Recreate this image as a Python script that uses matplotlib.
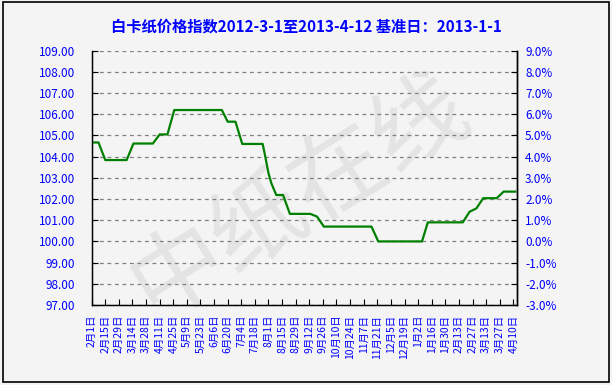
import matplotlib
matplotlib.use("Agg")
import matplotlib.pyplot as plt
from matplotlib.patches import Rectangle
import datetime as dt

plt.rcParams['font.family'] = ['Noto Sans CJK SC', 'DejaVu Sans']

# index values
dates = ["2012-02-01", "2012-02-08", "2012-02-15", "2012-03-08", "2012-03-15",
         "2012-04-04", "2012-04-11", "2012-04-19", "2012-04-26", "2012-06-14",
         "2012-06-20", "2012-06-28", "2012-07-05", "2012-07-26", "2012-07-28",
         "2012-08-01", "2012-08-04", "2012-08-09", "2012-08-16", "2012-08-23",
         "2012-09-13", "2012-09-20", "2012-09-27", "2012-11-15", "2012-11-22",
         "2013-01-06", "2013-01-12", "2013-02-17", "2013-02-24", "2013-03-03",
         "2013-03-10", "2013-03-24", "2013-03-31", "2013-04-12"]
values = [104.67, 104.67, 103.84, 103.84, 104.62, 104.62, 105.05, 105.05, 106.2, 106.2,
          105.65, 105.65, 104.6, 104.6, 104.16, 103.22, 102.74, 102.19, 102.19, 101.3,
          101.3, 101.17, 100.7, 100.7, 100.0, 100.0, 100.9, 100.9, 101.4, 101.56,
          102.04, 102.04, 102.35, 102.35]

tick_labels = ["2月1日", "2月15日", "2月29日", "3月14日", "3月28日", "4月11日", "4月25日",
               "5月9日", "5月23日", "6月6日", "6月20日", "7月4日", "7月18日", "8月1日",
               "8月15日", "8月29日", "9月12日", "9月26日", "10月10日", "10月24日",
               "11月7日", "11月21日", "12月5日", "12月19日", "1月2日", "1月16日",
               "1月30日", "2月13日", "2月27日", "3月13日", "3月27日", "4月10日"]
y_ticks = list(range(97, 110))
pct_ticks = list(range(-3, 10))

title = "白卡纸价格指数2012-3-1至2013-4-12 基准日：2013-1-1"
blue = "#0000ff"

x = [dt.datetime.strptime(d, "%Y-%m-%d") for d in dates]
start = dt.datetime(2012, 2, 1)
tick_pos = [start + dt.timedelta(days=14 * i) for i in range(len(tick_labels))]

fig = plt.figure(figsize=(6.12, 3.85), dpi=100, facecolor="#f4f4f4")
fig.patches.append(Rectangle((0.0045, 0.008), 0.991, 0.986, transform=fig.transFigure,
                             fill=False, edgecolor="black", linewidth=1.2, zorder=5))
# faint site watermark behind the plot
fig.text(0.49, 0.49, "中纸在线", rotation=32, fontsize=68, color="#e0e0e0",
         ha="center", va="center", zorder=-1, alpha=0.8)
fig.text(0.5, 0.931, title, color=blue, fontsize=11, fontweight="bold",
         ha="center", va="center")

ax = fig.add_axes([0.1498, 0.2078, 0.6945, 0.6605])
ax.patch.set_visible(False)
ax.plot(x, values, color="#008000", linewidth=1.6, zorder=3)

ax.set_xlim(start, start + dt.timedelta(days=437.5))
ax.set_ylim(97, 109)
ax.set_yticks(y_ticks)
ax.yaxis.set_major_formatter(plt.FuncFormatter(lambda v, p: f"{v:.2f}"))
ax.set_xticks(tick_pos)
ax.set_xticklabels(tick_labels, rotation=90)
ax.grid(axis="y", color="#808080", linestyle=(0, (3, 3)), linewidth=0.9)

for side in ["left", "bottom", "right"]:
    ax.spines[side].set_linewidth(1.0)
ax.spines["top"].set_visible(False)
ax.tick_params(axis="y", direction="in", length=4, pad=12, labelsize=8.5, labelcolor=blue)
ax.tick_params(axis="x", direction="in", length=4, pad=7, labelsize=7.5, labelcolor=blue)

ax2 = ax.twinx()
ax2.set_ylim(-3, 9)
ax2.set_yticks(pct_ticks)
ax2.yaxis.set_major_formatter(plt.FuncFormatter(lambda v, p: f"{v:.1f}%"))
ax2.spines["top"].set_visible(False)
ax2.spines["right"].set_linewidth(1.0)
ax2.tick_params(axis="y", direction="in", length=4, pad=6, labelsize=8.5, labelcolor=blue)

fig.savefig("out.png", dpi=100, facecolor=fig.get_facecolor())
